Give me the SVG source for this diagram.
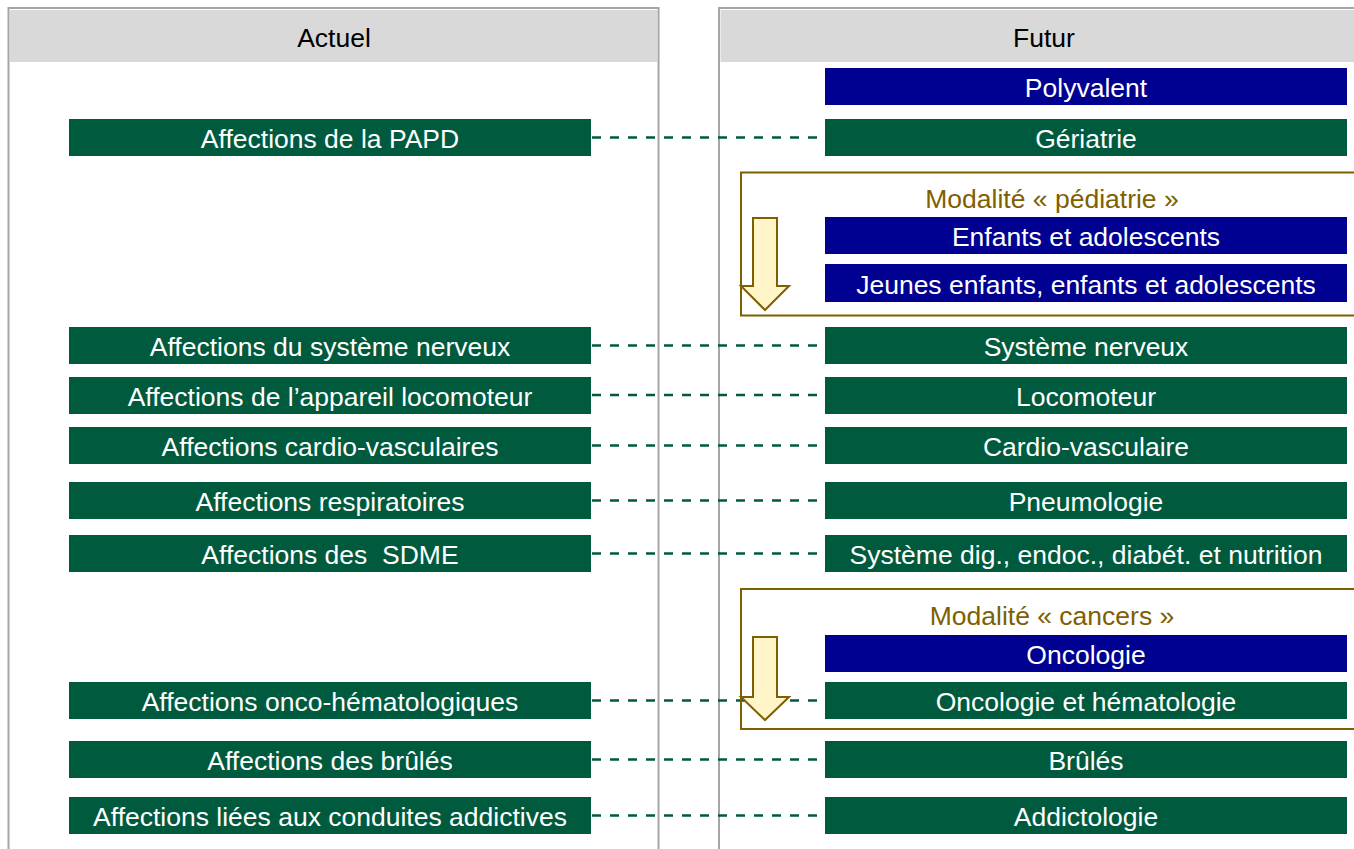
<svg xmlns="http://www.w3.org/2000/svg" width="1354" height="849" viewBox="0 0 1354 849">
<style>
  text{font-family:"Liberation Sans",Arial,sans-serif;font-size:26.5px;text-anchor:middle}
  .panel{fill:#ffffff;stroke:#a6a6a6;stroke-width:2}
  .hdr{fill:#d9d9d9}
  .hdrt{fill:#000000}
  .g{fill:#005a3e}
  .b{fill:#000091}
  .wt{fill:#ffffff}
  .mod{fill:none;stroke:#7f6000;stroke-width:2}
  .modt{fill:#7f6000}
  .arr{fill:#fff5c8;stroke:#7f6000;stroke-width:2;stroke-linejoin:miter}
  .dash{stroke:#005a3e;stroke-width:2.5;stroke-dasharray:9 9;fill:none}
</style>
<rect x="0" y="0" width="1354" height="849" fill="#ffffff"/>
<g id="panel-actuel">
  <rect class="panel" x="8.5" y="8" width="650" height="860"/>
  <rect class="hdr" x="10" y="10" width="647" height="52"/>
  <text class="hdrt" x="334" y="47">Actuel</text>
</g>
<g id="panel-futur">
  <rect class="panel" x="719" y="8" width="660" height="860"/>
  <rect class="hdr" x="720.5" y="10" width="640" height="52"/>
  <text class="hdrt" x="1044" y="47">Futur</text>
</g>
<g id="connectors">
  <line class="dash" x1="592" y1="137.5" x2="825" y2="137.5"/>
  <line class="dash" x1="592" y1="345.5" x2="825" y2="345.5"/>
  <line class="dash" x1="592" y1="395" x2="825" y2="395"/>
  <line class="dash" x1="592" y1="445.5" x2="825" y2="445.5"/>
  <line class="dash" x1="592" y1="500.5" x2="825" y2="500.5"/>
  <line class="dash" x1="592" y1="553.5" x2="825" y2="553.5"/>
  <line class="dash" x1="592" y1="700.5" x2="825" y2="700.5"/>
  <line class="dash" x1="592" y1="759.5" x2="825" y2="759.5"/>
  <line class="dash" x1="592" y1="815.5" x2="825" y2="815.5"/>
</g>
<g id="modalite-pediatrie">
  <rect class="mod" x="741" y="172.5" width="640" height="143"/>
  <text class="modt" x="1052" y="208">Modalité « pédiatrie »</text>
  <polygon class="arr" points="753,218 777,218 777,286 789,286 765,310 741,286 753,286"/>
</g>
<g id="modalite-cancers">
  <rect class="mod" x="741" y="589" width="640" height="140"/>
  <text class="modt" x="1052" y="625">Modalité « cancers »</text>
  <polygon class="arr" points="753,637 777,637 777,697 789,697 765,720 741,697 753,697"/>
</g>
<g id="a-papd"><rect class="g" x="69" y="119" width="522" height="37"/><text class="wt" x="330" y="148">Affections de la PAPD</text></g>
<g id="a-nerveux"><rect class="g" x="69" y="327" width="522" height="37"/><text class="wt" x="330" y="356">Affections du système nerveux</text></g>
<g id="a-locomoteur"><rect class="g" x="69" y="377" width="522" height="37"/><text class="wt" x="330" y="406">Affections de l’appareil locomoteur</text></g>
<g id="a-cardio"><rect class="g" x="69" y="427" width="522" height="37"/><text class="wt" x="330" y="456">Affections cardio-vasculaires</text></g>
<g id="a-respi"><rect class="g" x="69" y="482" width="522" height="37"/><text class="wt" x="330" y="511">Affections respiratoires</text></g>
<g id="a-sdme"><rect class="g" x="69" y="535" width="522" height="37"/><text class="wt" x="330" y="564" xml:space="preserve">Affections des  SDME</text></g>
<g id="a-onco"><rect class="g" x="69" y="682" width="522" height="37"/><text class="wt" x="330" y="711">Affections onco-hématologiques</text></g>
<g id="a-brules"><rect class="g" x="69" y="741" width="522" height="37"/><text class="wt" x="330" y="770">Affections des brûlés</text></g>
<g id="a-addict"><rect class="g" x="69" y="797" width="522" height="37"/><text class="wt" x="330" y="826">Affections liées aux conduites addictives</text></g>
<g id="f-polyvalent"><rect class="b" x="825" y="68" width="522" height="37"/><text class="wt" x="1086" y="97">Polyvalent</text></g>
<g id="f-geriatrie"><rect class="g" x="825" y="119" width="522" height="37"/><text class="wt" x="1086" y="148">Gériatrie</text></g>
<g id="f-enfants"><rect class="b" x="825" y="217" width="522" height="37"/><text class="wt" x="1086" y="246">Enfants et adolescents</text></g>
<g id="f-jeunes"><rect class="b" x="825" y="264" width="522" height="38"/><text class="wt" x="1086" y="294">Jeunes enfants, enfants et adolescents</text></g>
<g id="f-nerveux"><rect class="g" x="825" y="327" width="522" height="37"/><text class="wt" x="1086" y="356">Système nerveux</text></g>
<g id="f-locomoteur"><rect class="g" x="825" y="377" width="522" height="37"/><text class="wt" x="1086" y="406">Locomoteur</text></g>
<g id="f-cardio"><rect class="g" x="825" y="427" width="522" height="37"/><text class="wt" x="1086" y="456">Cardio-vasculaire</text></g>
<g id="f-pneumo"><rect class="g" x="825" y="482" width="522" height="37"/><text class="wt" x="1086" y="511">Pneumologie</text></g>
<g id="f-sdme"><rect class="g" x="825" y="535" width="522" height="37"/><text class="wt" x="1086" y="564">Système dig., endoc., diabét. et nutrition</text></g>
<g id="f-oncologie"><rect class="b" x="825" y="635" width="522" height="37"/><text class="wt" x="1086" y="664">Oncologie</text></g>
<g id="f-oncohema"><rect class="g" x="825" y="682" width="522" height="37"/><text class="wt" x="1086" y="711">Oncologie et hématologie</text></g>
<g id="f-brules"><rect class="g" x="825" y="741" width="522" height="37"/><text class="wt" x="1086" y="770">Brûlés</text></g>
<g id="f-addicto"><rect class="g" x="825" y="797" width="522" height="37"/><text class="wt" x="1086" y="826">Addictologie</text></g>
</svg>
